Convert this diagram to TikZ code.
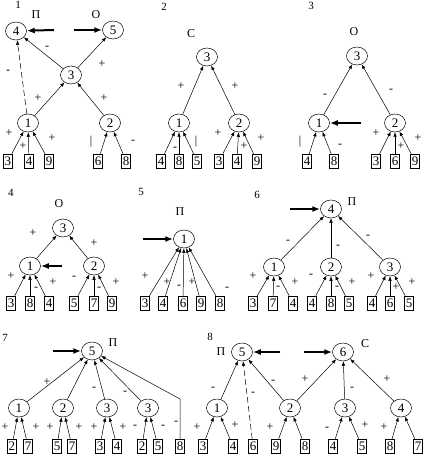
\documentclass[tikz,border=0pt]{standalone}
\usepackage{fontspec}
\setmainfont{Liberation Serif}
\usetikzlibrary{arrows.meta,shapes.geometric}
\tikzset{
  nd/.style={draw, ellipse, line width=.5pt, minimum width=21pt, minimum height=18pt, inner sep=0pt, font=\fontsize{13}{13}\selectfont},
  lf/.style={draw, line width=.5pt, minimum width=9pt, minimum height=14pt, inner sep=0pt, font=\fontsize{13}{13}\selectfont},
  ar/.style={-{Latex[length=4.5pt,width=3.5pt]}, line width=.5pt},
  dar/.style={ar, dash pattern=on 6pt off 3pt},
  bar/.style={-{Latex[length=8pt,width=6pt]}, line width=2pt},
  lbl/.style={font=\fontsize{12}{12}\selectfont, inner sep=0pt},
  ttl/.style={font=\fontsize{11}{11}\selectfont, inner sep=0pt},
}

\begin{document}
\begin{tikzpicture}[x=1pt,y=-1pt]
  \useasboundingbox (0,0) rectangle (427,465);
  % 1
  \node[ttl] (h1) at (18,5) {1};
  \node[nd] (n14) at (16,31) {4};
  \node[nd] (n15) at (113,30) {5};
  \node[nd] (n13) at (71,75) {3};
  \node[nd] (n11) at (28,123) {1};
  \node[nd] (n12) at (110,123) {2};
  \foreach \x/\v/\p in {8/3/n11,29/4/n11,49/9/n11,98/6/n12,126/8/n12}{
    \node[lf] (a\x) at (\x,161) {\v};
    \draw[ar] (a\x) -- (\p);
  }
  \draw[ar] (n11) -- (n13);
  \draw[ar] (n12) -- (n13);
  \draw[ar] (n13) -- (n14);
  \draw[ar] (n13) -- (n15);
  \draw[dar] (n11) -- (n14);
  \coordinate (s11) at (54,30);
  \coordinate (s12) at (74,30);
  \draw[bar] (s11) -- (n14);
  \draw[bar] (s12) -- (n15);
  % 2
  \node[ttl] (h2) at (164,7) {2};
  \node[nd] (n23) at (207,57) {3};
  \node[nd] (n21) at (179,123) {1};
  \node[nd] (n22) at (239,123) {2};
  \foreach \x/\v/\p in {161/4/n21,179/8/n21,197/5/n21,219/3/n22,237/4/n22,257/9/n22}{
    \node[lf] (a\x) at (\x,161) {\v};
    \draw[ar] (a\x) -- (\p);
  }
  \draw[ar] (n21) -- (n23);
  \draw[ar] (n22) -- (n23);
  % 3
  \node[ttl] (h3) at (311,6) {3};
  \node[nd] (n33) at (357,56) {3};
  \node[nd] (n31) at (319,123) {1};
  \node[nd] (n32) at (395,123) {2};
  \foreach \x/\v/\p in {307/4/n31,334/8/n31,376/3/n32,395/6/n32,415/9/n32}{
    \node[lf] (a\x) at (\x,161) {\v};
    \draw[ar] (a\x) -- (\p);
  }
  \draw[ar] (n31) -- (n33);
  \draw[ar] (n32) -- (n33);
  \coordinate (s31) at (361,123);
  \draw[bar] (s31) -- (n31);
  % 4
  \node[ttl] (h4) at (11,193) {4};
  \node[nd] (n43) at (63,228) {3};
  \node[nd] (n41) at (30,266) {1};
  \node[nd] (n42) at (94,266) {2};
  \foreach \x/\v/\p in {11/3/n41,30/8/n41,49/4/n41,74/5/n42,94/7/n42,112/9/n42}{
    \node[lf] (b\x) at (\x,303) {\v};
    \draw[ar] (b\x) -- (\p);
  }
  \draw[ar] (n41) -- (n43);
  \draw[ar] (n42) -- (n43);
  \coordinate (s41) at (62,266);
  \draw[bar] (s41) -- (n41);
  % 5
  \node[ttl] (h5) at (141,192) {5};
  \node[nd] (n51) at (184,239) {1};
  \foreach \x/\v in {145/3,163/4,183/6,201/9,220/8}{
    \node[lf] (b\x) at (\x,303) {\v};
    \draw[ar] (b\x) -- (n51);
  }
  \coordinate (s51) at (143,239);
  \draw[bar] (s51) -- (n51);
  % 6
  \node[ttl] (h6) at (257,195) {6};
  \node[nd] (n64) at (331,209) {4};
  \node[nd] (n61) at (274,267) {1};
  \node[nd] (n62) at (331,267) {2};
  \node[nd] (n63) at (390,267) {3};
  \foreach \x/\v/\p in {253/3/n61,273/7/n61,293/4/n61,312/4/n62,331/8/n62,349/5/n62,372/4/n63,390/6/n63,409/5/n63}{
    \node[lf] (b\x) at (\x,303) {\v};
    \draw[ar] (b\x) -- (\p);
  }
  \foreach \p in {n61,n62,n63}
    \draw[ar] (\p) -- (n64);
  \coordinate (s61) at (290,209);
  \draw[bar] (s61) -- (n64);
  % 7
  \node[ttl] (h7) at (5,338) {7};
  \node[nd] (n75) at (92,351) {5};
  \node[nd] (n71) at (19,408) {1};
  \node[nd] (n72) at (63,408) {2};
  \node[nd] (n73) at (107,408) {3};
  \node[nd] (n74) at (148,408) {3};
  \foreach \x/\v/\p in {12/2/n71,28/7/n71,57/5/n72,72/7/n72,100/3/n73,117/4/n73,142/2/n74,158/5/n74}{
    \node[lf] (c\x) at (\x,446) {\v};
    \draw[ar] (c\x) -- (\p);
  }
  \foreach \p in {n71,n72,n73,n74}
    \draw[ar] (\p) -- (n75);
  \node[lf] (c180) at (180,446) {8};
  \coordinate (k7) at (180,399);
  \draw[ar] (c180) -- (k7) -- (n75);
  \coordinate (s71) at (53,351);
  \draw[bar] (s71) -- (n75);
  % 8
  \node[ttl] (h8) at (210,337) {8};
  \node[nd] (n85) at (242,352) {5};
  \node[nd] (n86) at (343,352) {6};
  \node[nd] (n81) at (217,408) {1};
  \node[nd] (n82) at (290,408) {2};
  \node[nd] (n83) at (345,408) {3};
  \node[nd] (n84) at (401,408) {4};
  \foreach \x/\v/\p in {203/3/n81,233/4/n81,276/9/n82,305/8/n82,333/4/n83,362/5/n83,390/8/n84,418/7/n84}{
    \node[lf] (c\x) at (\x,446) {\v};
    \draw[ar] (c\x) -- (\p);
  }
  \node[lf] (c253) at (253,446) {6};
  \draw[dar] (c253) -- (n85);
  \draw[ar] (n81) -- (n85);
  \draw[ar] (n82) -- (n85);
  \draw[ar] (n82) -- (n86);
  \draw[ar] (n83) -- (n86);
  \draw[ar] (n84) -- (n86);
  \coordinate (s81) at (280,352);
  \coordinate (s82) at (304,352);
  \draw[bar] (s81) -- (n85);
  \draw[bar] (s82) -- (n86);
  % marks
  \foreach \x/\y/\s [count=\i] in {36/15/П,96/15/О,47/48/-,102/64/+,38/98/+,104/98/+,8/72/-,
      9/133/+,23/146/+,52/138/+,91/142/|,133/142/-,
      191/34/С,181/86/+,235/86/+,175/149/-,196/142/|,218/133/+,244/146/+,261/138/+,
      354/32/О,325/96/-,391/91/-,300/142/|,340/146/-,376/133/+,401/146/+,418/138/+,
      59/204/О,33/233/+,94/243/+,11/276/+,36/289/-,53/282/+,74/278/-,99/289/-,116/282/+,
      180/212/П,145/276/+,167/282/+,179/287/-,192/282/+,227/289/-,
      352/202/П,288/242/-,338/247/-,368/237/-,253/276/+,278/288/-,295/282/+,311/276/-,
      337/288/-,352/282/+,371/276/+,396/287/+,412/282/+,
      113/343/П,47/382/+,94/389/-,125/393/-,5/427/+,36/427/+,50/427/+,79/427/+,94/427/+,
      123/427/+,135/427/-,163/427/-,176/423/-,
      221/352/П,365/344/С,213/389/-,253/394/-,273/382/-,305/379/+,352/389/-,387/379/+,
      197/427/+,235/425/+,270/427/+,327/429/-,365/425/+,384/427/+}
    \node[lbl] (m\i) at (\x,\y) {\s};
\end{tikzpicture}
\end{document}
